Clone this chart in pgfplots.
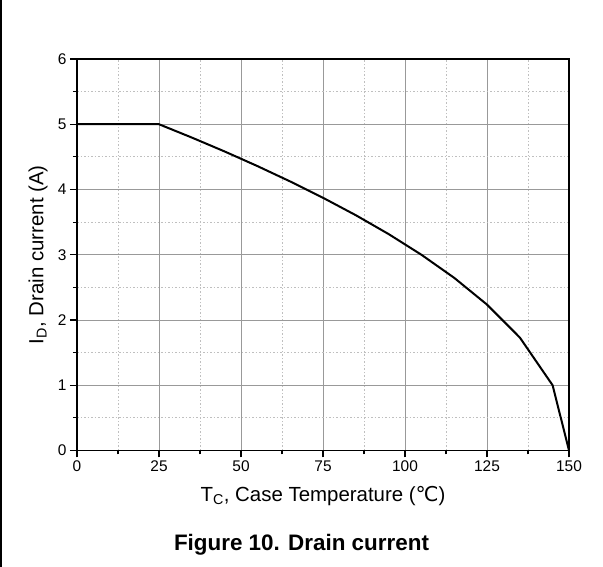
\documentclass[border=0pt]{standalone}
\usepackage{fontspec}
\setmainfont{Liberation Sans}
\newfontfamily\dejavu{DejaVu Sans}
\usepackage{pgfplots}
\pgfplotsset{compat=1.18}

\begin{document}
\begin{tikzpicture}[x=1bp,y=1bp]
\begin{axis}[
    at={(0,0)}, anchor=south west,
    scale only axis,
    width=492bp, height=391.5bp,
    xmin=0, xmax=150, ymin=0, ymax=6,
    xtick={0,25,...,150}, ytick={0,1,...,6},
    minor tick num=1,
    tick pos=left,
    tick align=outside,
    major tick length=7bp, minor tick length=4bp,
    tick style={black, line width=1.2bp},
    axis line style={black, line width=1.5bp},
    grid=both,
    major grid style={draw=black!40, line width=0.9bp},
    minor grid style={draw=black!25, line width=0.9bp, dash pattern=on 1.5bp off 2bp},
    /pgf/number format/assume math mode=true,
    ticklabel style={font=\fontsize{15.5}{17}\selectfont},
    xlabel={T\textsubscript{C}, Case Temperature ({\dejavu ℃})},
    ylabel={I\textsubscript{D}, Drain current (A)},
    label style={font=\fontsize{20.5}{23}\selectfont},
    xlabel style={at={(axis description cs:0.5,0)}, anchor=base, yshift=-51bp},
    ylabel style={at={([xshift=-33.5bp]axis description cs:0,0.5)}, anchor=base},
]
\addplot[black, line width=2bp] coordinates {
    (0,5) (25,5) (35,4.796) (45,4.583) (55,4.359) (65,4.123) (75,3.873)
    (85,3.606) (95,3.317) (105,3.0) (115,2.646) (125,2.236) (135,1.732)
    (145,1.0) (150,0)
};
\end{axis}
\node[anchor=base, font=\bfseries\fontsize{22.5}{26}\selectfont] at (224.5,-100) {Figure 10. Drain current};
\draw[black, line width=1.5bp] (-76,-116.5) -- (-76,450.5);
\pgfresetboundingbox
\useasboundingbox (-77,-116.5) rectangle (526,450.5);
\end{tikzpicture}
\end{document}
